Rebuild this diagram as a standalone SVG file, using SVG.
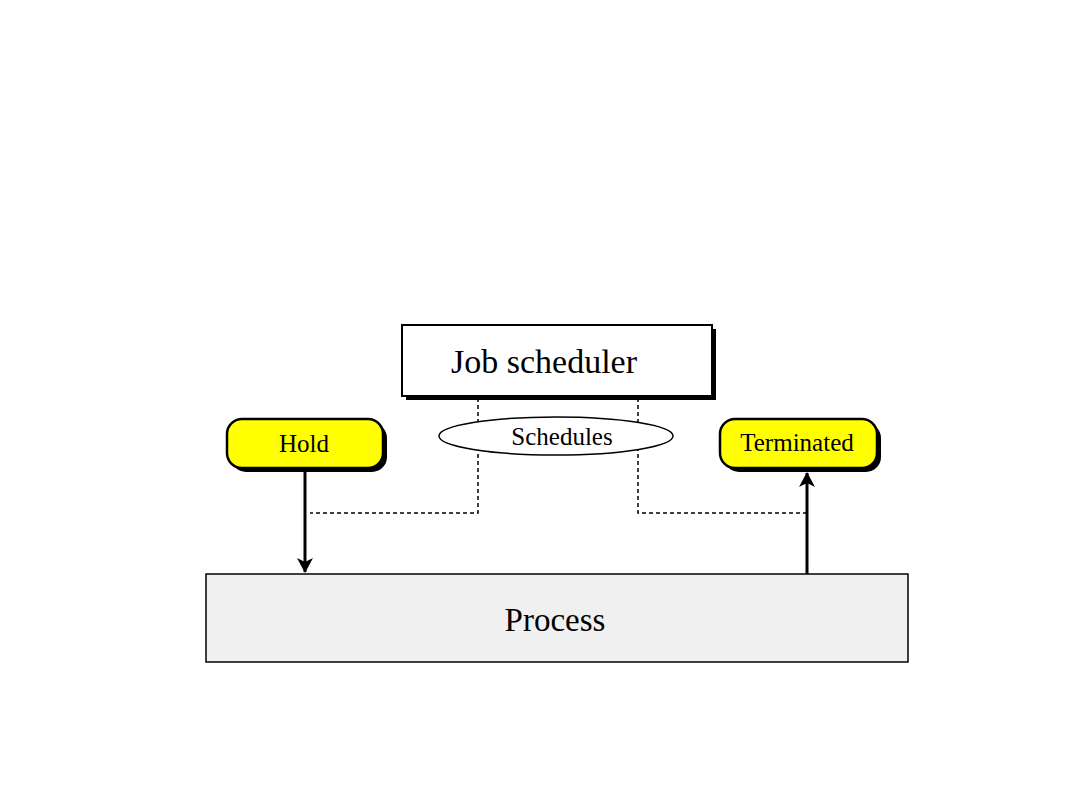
<svg xmlns="http://www.w3.org/2000/svg" width="1080" height="810" viewBox="0 0 1080 810">
<style>
text{font-family:"Liberation Serif","Times New Roman",serif;fill:#000;text-anchor:middle}
.shadow{fill:#000}
.pill{fill:#ffff00;stroke:#000;stroke-width:2.5}
.dash{fill:none;stroke:#000;stroke-width:1.5;stroke-dasharray:4 3}
.arrow{fill:none;stroke:#000;stroke-width:3}
.lbl{font-size:25px}
</style>
<defs>
<marker id="ah" markerWidth="16" markerHeight="16" refX="14" refY="8" orient="auto" markerUnits="userSpaceOnUse">
<path d="M0,0 L15,8 L0,16 L4,8 Z" fill="#000"/>
</marker>
</defs>
<rect width="1080" height="810" fill="#fff"/>
<g id="connectors">
<path class="dash" d="M478,398 V513 H310"/>
<path class="dash" d="M638,398 V513 H806"/>
<line class="arrow" x1="305" y1="470" x2="305" y2="572" marker-end="url(#ah)"/>
<line class="arrow" x1="807" y1="576" x2="807" y2="473" marker-end="url(#ah)"/>
</g>
<g id="job-scheduler">
<rect class="shadow" x="406" y="329" width="310" height="71"/>
<rect x="402" y="325" width="310" height="71" fill="#fff" stroke="#000" stroke-width="2"/>
<text x="544" y="373" font-size="34">Job scheduler</text>
</g>
<g id="schedules">
<ellipse cx="556" cy="436" rx="117" ry="19" fill="#fff" stroke="#000" stroke-width="1.5"/>
<text class="lbl" x="562" y="445">Schedules</text>
</g>
<g id="hold">
<rect class="shadow" x="231" y="423" width="156" height="49" rx="15"/>
<rect class="pill" x="227" y="419" width="156" height="49" rx="15"/>
<text class="lbl" x="304" y="452">Hold</text>
</g>
<g id="terminated">
<rect class="shadow" x="724" y="423" width="157" height="49" rx="15"/>
<rect class="pill" x="720" y="419" width="157" height="49" rx="15"/>
<text class="lbl" x="797" y="451">Terminated</text>
</g>
<g id="process">
<rect x="206" y="574" width="702" height="88" fill="#f0f0f0" stroke="#000" stroke-width="1.5"/>
<text x="555" y="631" font-size="33">Process</text>
</g>
</svg>
